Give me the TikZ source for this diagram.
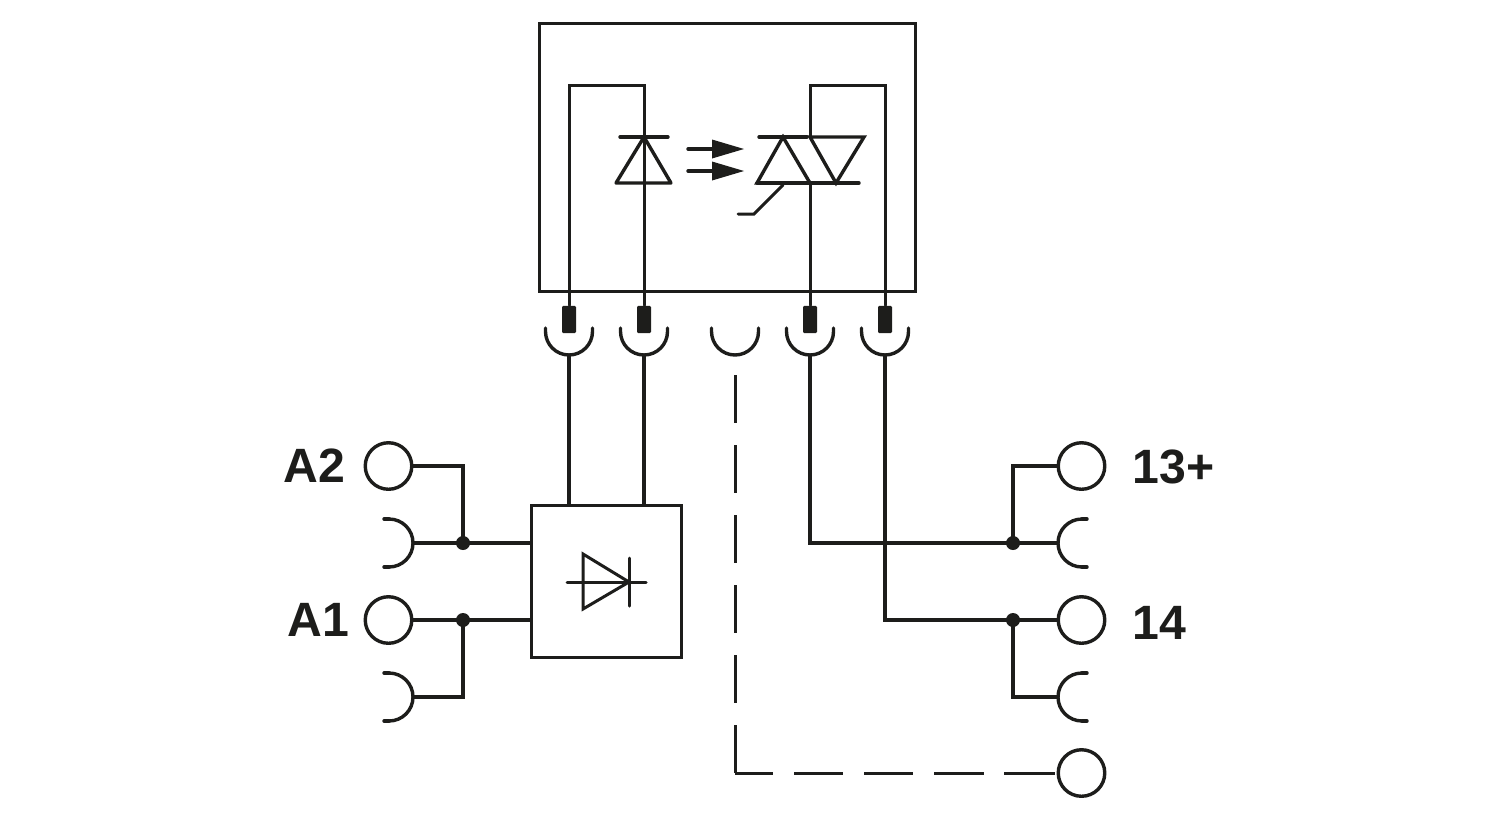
\documentclass[tikz,border=0pt]{standalone}
\usepackage{fontspec}
\setmainfont{Liberation Sans}
\definecolor{ink}{HTML}{1D1D1B}
\tikzset{
  thinline/.style={draw=ink, line width=0.034cm, line cap=round, line join=miter},
  innerline/.style={draw=ink, line width=0.03cm, line cap=round, line join=miter},
  wire/.style={draw=ink, line width=0.046cm, line join=miter},
  longdash/.style={innerline, dash pattern=on 0.48cm off 0.22cm},
  terminal/.style={circle, draw=ink, line width=0.034cm, minimum size=0.465cm, inner sep=0pt},
  pinblock/.style={rectangle, fill=ink, rounded corners=0.3pt, minimum width=0.14cm, minimum height=0.27cm, inner sep=0pt},
  junction/.style={circle, fill=ink, minimum size=0.14cm, inner sep=0pt},
  termlabel/.style={font=\fontsize{13.7}{14}\selectfont\bfseries, text=ink, inner sep=0pt}
}
\begin{document}
\begin{tikzpicture}[x=0.01cm,y=0.01cm]
  \useasboundingbox (0,0) rectangle (1500,820);
  % relay housing and converter block
  \node[thinline, rectangle, minimum width=3.76cm, minimum height=2.68cm, inner sep=0pt] (housing) at (727.5,662.5) {};
  \node[thinline, rectangle, minimum width=1.5cm, minimum height=1.52cm, inner sep=0pt] (conv) at (606.5,238.5) {};
  % plug pins
  \node[pinblock] (pinA) at (569,500.5) {};
  \node[pinblock] (pinB) at (644,500.5) {};
  \node[pinblock] (pinC) at (810,500.5) {};
  \node[pinblock] (pinD) at (885,500.5) {};
  % socket half rounds, open side up
  \draw[thinline] (545.5,492) -- (545.5,488.5) arc (180:360:23.5) -- (592.5,492);
  \draw[thinline] (620.5,492) -- (620.5,488.5) arc (180:360:23.5) -- (667.5,492);
  \draw[thinline] (711.5,492) -- (711.5,488.5) arc (180:360:23.5) -- (758.5,492);
  \draw[thinline] (786.5,492) -- (786.5,488.5) arc (180:360:23.5) -- (833.5,492);
  \draw[thinline] (861.5,492) -- (861.5,488.5) arc (180:360:23.5) -- (908.5,492);
  \coordinate (sockA) at (569,465);
  \coordinate (sockB) at (644,465);
  \coordinate (sockC) at (810,465);
  \coordinate (sockD) at (885,465);
  % wires inside the housing
  \coordinate (topA) at (569,735);
  \coordinate (topB) at (644,735);
  \coordinate (topC) at (810,735);
  \coordinate (topD) at (885,735);
  \draw[innerline] (pinA.north) -- (topA) -- (topB) -- (pinB.north);
  \draw[innerline] (pinD.north) -- (topD) -- (topC) -- (810,683);
  \draw[innerline] (810,637) -- (pinC.north);
  % led
  \draw[thinline] (620,683) -- (668,683);
  \draw[thinline, line join=round] (644,683) -- (671,637) -- (616,637) -- cycle;
  % light arrows
  \draw[thinline] (688,671) -- (712,671);
  \fill[ink] (712,680.5) -- (744,671) -- (712,661.5) -- cycle;
  \draw[thinline] (688,649) -- (712,649);
  \fill[ink] (712,658.5) -- (744,649) -- (712,639.5) -- cycle;
  % triac
  \draw[thinline] (759,683) -- (807,683);
  \draw[thinline] (783,683) -- (810,637) -- (757,637) -- cycle;
  \draw[thinline] (757,637) -- (859,637);
  \draw[thinline] (810,683) -- (864,683) -- (836,637) -- cycle;
  \draw[innerline] (783,635) -- (754,606) -- (738,606);
  % wires from sockets down
  \draw[wire] (sockA) -- (sockA |- conv.north);
  \draw[wire] (sockB) -- (sockB |- conv.north);
  % terminals left
  \node[terminal] (tA2) at (388.5,354) {};
  \node[terminal] (tA1) at (388.5,200) {};
  \node[termlabel, anchor=base east] (lA2) at (346,338) {A2};
  \node[termlabel, anchor=base east] (lA1) at (350,184) {A1};
  \draw[thinline] (389,301) arc (90:-90:24) coordinate[pos=0.5] (hA2);
  \draw[thinline] (384,301) -- (389,301);
  \draw[thinline] (384,253) -- (389,253);
  \draw[thinline] (389,147) arc (90:-90:24) coordinate[pos=0.5] (hA1);
  \draw[thinline] (384,147) -- (389,147);
  \draw[thinline] (384,99) -- (389,99);
  \node[junction] (jA2) at (463,277) {};
  \node[junction] (jA1) at (463,200) {};
  \draw[wire] (tA2.east) -| (jA2.center);
  \draw[wire] (hA2) -- (jA2.center) -- (jA2 -| conv.west);
  \draw[wire] (tA1.east) -- (jA1.center) -- (jA1 -| conv.west);
  \draw[wire] (jA1.center) |- (hA1);
  % diode in converter
  \draw[innerline] (583,266) -- (629,238) -- (583,211) -- cycle;
  \draw[innerline] (629,262) -- (629,214);
  \draw[innerline] (567,238) -- (646,238);
  % terminals right
  \node[terminal] (t13) at (1081.5,354) {};
  \node[terminal] (t14) at (1081.5,200) {};
  \node[terminal] (tfree) at (1081.5,47) {};
  \node[termlabel, anchor=base west] (l13) at (1132,337) {13+};
  \node[termlabel, anchor=base west] (l14) at (1132,181) {14};
  \draw[thinline] (1082,301) arc (90:270:24) coordinate[pos=0.5] (h13);
  \draw[thinline] (1087,301) -- (1082,301);
  \draw[thinline] (1087,253) -- (1082,253);
  \draw[thinline] (1082,147) arc (90:270:24) coordinate[pos=0.5] (h14);
  \draw[thinline] (1087,147) -- (1082,147);
  \draw[thinline] (1087,99) -- (1082,99);
  \node[junction] (j13) at (1013,277) {};
  \node[junction] (j14) at (1013,200) {};
  \draw[wire] (t13.west) -| (j13.center);
  \draw[wire] (sockC) |- (j13.center) -- (h13);
  \draw[wire] (sockD) |- (j14.center) -- (t14.west);
  \draw[wire] (j14.center) |- (h14);
  % dashed line to the spare terminal
  \coordinate (dashtop) at (735,445);
  \coordinate (dashcorner) at (735,47);
  \draw[longdash, line cap=butt] (dashtop) -- (dashcorner);
  \draw[innerline, dash pattern=on 0.38cm off 0.21cm on 0.49cm off 0.21cm on 0.49cm off 0.21cm on 0.5cm off 0.2cm on 0.51cm, line cap=butt] (dashcorner) -- (tfree.west);
\end{tikzpicture}
\end{document}
